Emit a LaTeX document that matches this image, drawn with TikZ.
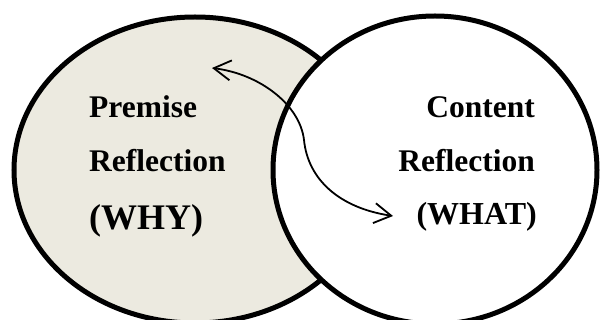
\documentclass[tikz,border=0pt]{standalone}
\usepackage{fontspec}
\setmainfont{Liberation Serif}
\usetikzlibrary{arrows.meta}
\definecolor{premisefill}{HTML}{ECEAE0}
\tikzset{
  ring/.style={line width=5pt, draw=black},
  lbl/.style={inner sep=0pt, font=\bfseries\fontsize{31.5}{31.5}\selectfont},
  biglbl/.style={inner sep=0pt, font=\bfseries\fontsize{36}{36}\selectfont},
  linkarrow/.style={line width=1.8pt, {Straight Barb[length=17pt,width=20pt]}-{Straight Barb[length=17pt,width=20pt]}}
}
\begin{document}
\begin{tikzpicture}[x=1pt,y=-1pt]
  \useasboundingbox (0,0) rectangle (600,320);
  \fill[white] (0,0) rectangle (600,320);

  % two overlapping reflection areas
  \draw[ring, fill=premisefill] (195,170) ellipse [x radius=181pt, y radius=153pt];
  \draw[ring, fill=white] (435,170) ellipse [x radius=162pt, y radius=154pt];

  % left labels
  \node[lbl, anchor=base west] (prem) at (89,118) {Premise};
  \node[lbl, anchor=base west] (prefl) at (89,172) {Reflection};
  \node[biglbl, anchor=base west] (why) at (89,230) {(WHY)};

  % right labels
  \node[lbl, anchor=base east] (cont) at (535,118) {Content};
  \node[lbl, anchor=base east] (crefl) at (535,172) {Reflection};
  \node[lbl, anchor=base east, font=\bfseries\fontsize{32}{32}\selectfont] (what) at (537,225) {(WHAT)};

  % two-way link between the areas
  \coordinate (whyend) at (212,68);
  \coordinate (whatend) at (393,216);
  \draw[linkarrow] (whyend) .. controls (260,74) and (300,105) .. (304,140)
                            .. controls (308,180) and (340,208) .. (whatend);
\end{tikzpicture}
\end{document}
